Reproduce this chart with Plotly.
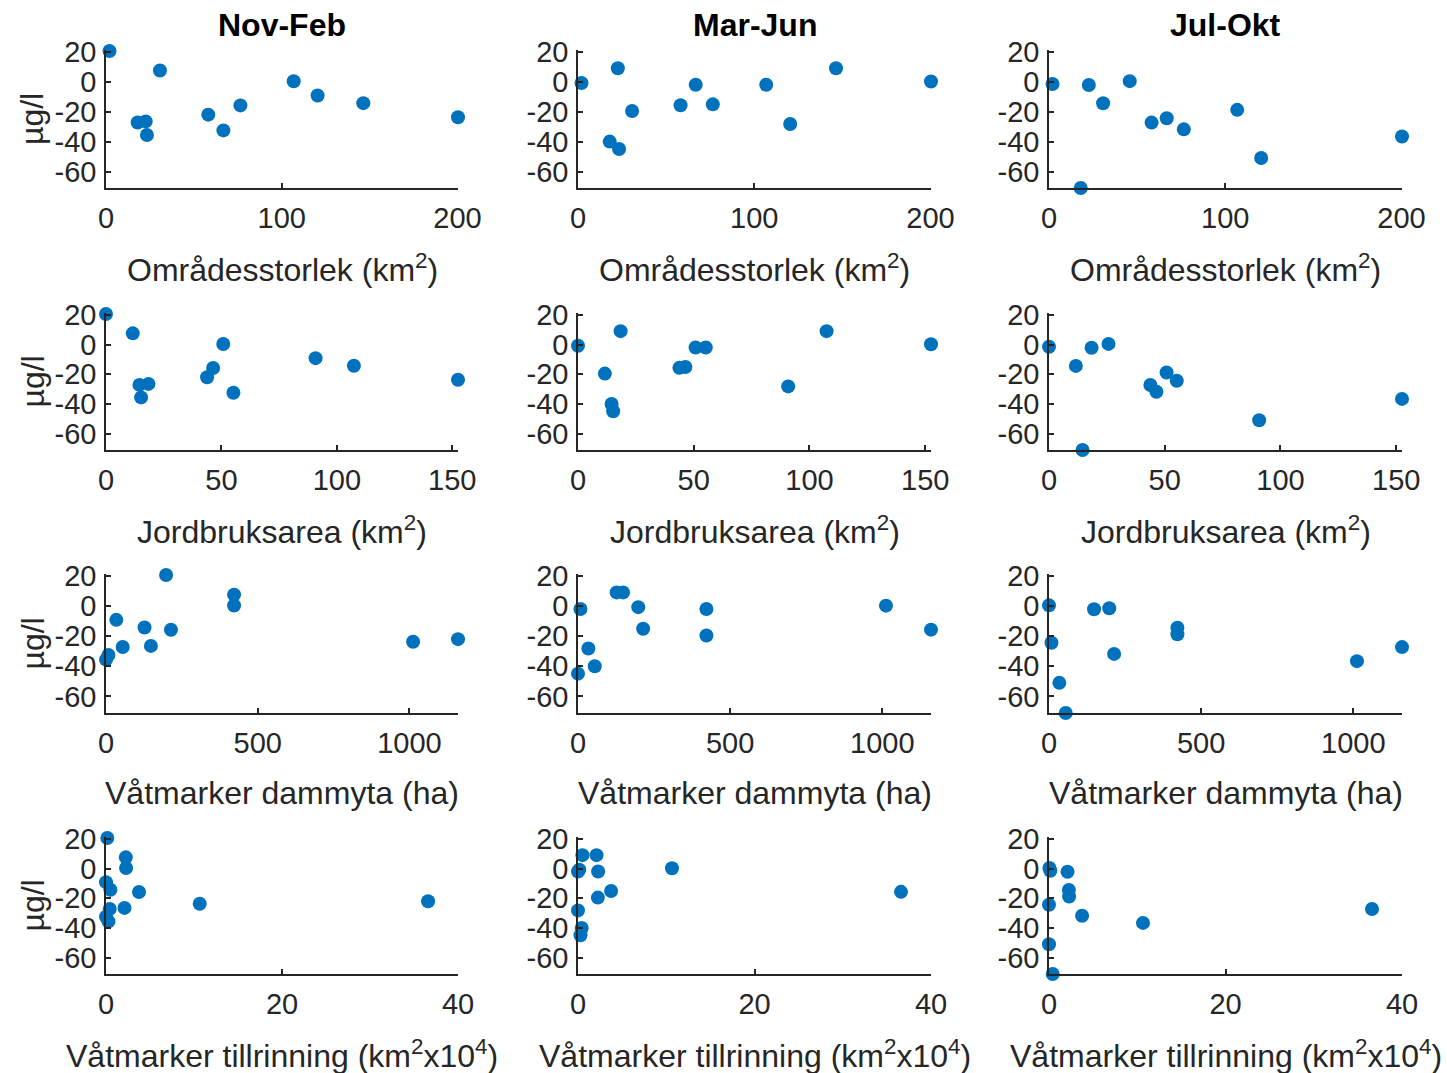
import plotly.graph_objects as go

# ---------------- data ----------------
seasons = ["Nov-Feb", "Mar-Jun", "Jul-Okt"]
x_labels = [
    "Områdesstorlek (km<sup>2</sup>)",
    "Jordbruksarea (km<sup>2</sup>)",
    "Våtmarker dammyta (ha)",
    "Våtmarker tillrinning (km<sup>2</sup>x10<sup>4</sup>)",
]
y_label = "µg/l"

# 13 sites (same order in every list)
omradesstorlek = [2.0, 18.0, 22.6, 23.3, 30.7, 58.2, 66.8, 76.5, 106.8, 120.4, 146.4, 200.3, 45.8]
jordbruksarea = [0.0, 14.5, 18.4, 15.2, 11.6, 43.8, 55.2, 46.4, 50.8, 90.8, 107.4, 152.5, 25.7]
dammyta = [198, 55, 148, 0, 422, 1160, 8, 214, 422, 34, 127, 1012, 0]
tillrinning = [0.15, 0.42, 2.1, 0.28, 2.25, 36.6, 0.0, 3.75, 2.28, 0.0, 0.5, 10.65, 0.05]

nov_feb = [20.5, -27.2, -26.5, -35.6, 7.5, -22.0, -32.5, -15.8, 0.3, -9.2, -14.3, -23.7, None]
mar_jun = [-0.8, -40.0, 9.0, -44.9, -19.6, -15.7, -2.0, -15.1, -2.0, -28.2, 9.0, 0.2, None]
jul_okt = [-1.5, -71.0, -2.2, None, -14.4, -27.3, -24.4, -31.8, -18.8, -51.0, 22.0, -36.6, 0.4]

x_ticks = [[0, 100, 200], [0, 50, 100, 150], [0, 500, 1000], [0, 20, 40]]
y_ticks = [-60, -40, -20, 0, 20]
x_ranges = [[0, 200.3], [0, 152.5], [0, 1160], [0, 40]]
y_range = [-71, 21.2]

# ---------------- layout geometry (window pixels) ----------------
W, H = 1447, 1073
col_px = [(106, 458), (578, 931), (1049, 1402)]
row_px = [(50, 188), (313, 450), (574, 713), (837, 974)]


def px_x(p):
    return p / W


def px_y(p):
    return 1 - p / H


x_data = [omradesstorlek, jordbruksarea, dammyta, tillrinning]
y_data = [nov_feb, mar_jun, jul_okt]

INK = "#262626"
FONT = "Liberation Sans, Arial, sans-serif"
BLUE = "#0072BD"

fig = go.Figure()
layout = dict(
    width=W, height=H, autosize=False,
    margin=dict(l=0, r=0, t=0, b=0, pad=0, autoexpand=False),
    paper_bgcolor="white", plot_bgcolor="white",
    showlegend=False,
    font=dict(family=FONT, color=INK),
)

annotations = []

for r in range(4):
    for c in range(3):
        k = r * 3 + c + 1
        xa = "x" if k == 1 else f"x{k}"
        ya = "y" if k == 1 else f"y{k}"
        fig.add_trace(go.Scatter(
            x=x_data[r], y=y_data[c], mode="markers",
            marker=dict(size=14, color=BLUE, line=dict(width=0)),
            xaxis=xa, yaxis=ya, cliponaxis=False,
        ))
        x0, x1 = col_px[c]
        y0, y1 = row_px[r]
        common = dict(
            showline=True, linecolor=INK, linewidth=1.5,
            ticks="inside", ticklen=5, tickwidth=1.5, tickcolor=INK,
            showgrid=False, zeroline=False, automargin=False,
            tickfont=dict(family=FONT, size=29, color=INK),
        )
        layout["xaxis" if k == 1 else f"xaxis{k}"] = dict(
            common,
            domain=[px_x(x0), px_x(x1)],
            anchor=ya,
            range=x_ranges[r],
            tickmode="array", tickvals=x_ticks[r],
            ticktext=[str(v) for v in x_ticks[r]],
            ticklabelstandoff=3,
        )
        layout["yaxis" if k == 1 else f"yaxis{k}"] = dict(
            common,
            domain=[px_y(y1), px_y(y0)],
            anchor=xa,
            range=y_range,
            tickmode="array", tickvals=y_ticks,
            ticktext=[str(v) for v in y_ticks],
            ticklabelstandoff=2,
        )
        # x-axis title
        annotations.append(dict(
            text=x_labels[r], xref="paper", yref="paper",
            x=px_x((x0 + x1) / 2), y=px_y(y1 + 80),
            xanchor="center", yanchor="middle", showarrow=False,
            font=dict(family=FONT, size=32, color=INK),
        ))
    # y-axis title on the first column
    y0, y1 = row_px[r]
    annotations.append(dict(
        text=y_label, xref="paper", yref="paper",
        x=px_x(32), y=px_y((y0 + y1) / 2), textangle=-90,
        xanchor="center", yanchor="middle", showarrow=False,
        font=dict(family=FONT, size=32, color=INK),
    ))

for c in range(3):
    x0, x1 = col_px[c]
    annotations.append(dict(
        text=f"<b>{seasons[c]}</b>", xref="paper", yref="paper",
        x=px_x((x0 + x1) / 2), y=px_y(25),
        xanchor="center", yanchor="middle", showarrow=False,
        font=dict(family=FONT, size=32, color="#000000"),
    ))

layout["annotations"] = annotations
fig.update_layout(**layout)
fig.write_html("out.html")
